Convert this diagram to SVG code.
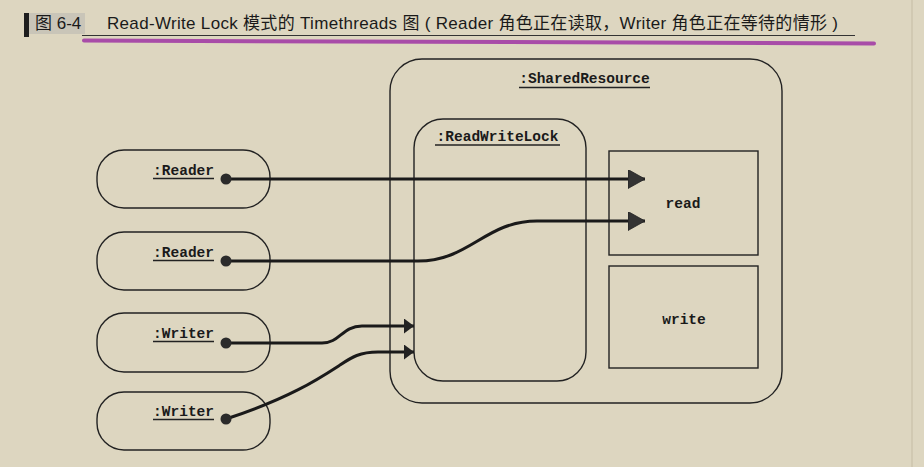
<svg xmlns="http://www.w3.org/2000/svg" width="924" height="467" viewBox="0 0 924 467">
  <defs>
    <style>
      .bg { fill: #ddd6c0; }
      .title { font-family: "Liberation Sans", "Noto Sans CJK SC", sans-serif; font-size: 17px; fill: #1a1a1a; }
      .lbl { font-family: "Liberation Mono", "DejaVu Sans Mono", monospace; font-weight: bold; font-size: 14.5px; fill: #1a1a1a; }
      .node { fill: none; stroke: #222; stroke-width: 1.4; }
      .ul { stroke: #222; stroke-width: 1.3; }
      .conn { fill: none; stroke: #1a1a1a; stroke-width: 3; }
      .dot { fill: #2b2b2b; }
    </style>
    <marker id="arrBig" viewBox="0 0 17 19" refX="17" refY="9.5" markerWidth="17" markerHeight="19" markerUnits="userSpaceOnUse" orient="auto">
      <path d="M0,0 L17,9.5 L0,19 z" fill="#333" stroke="#222" stroke-width="0.8"/>
    </marker>
    <marker id="arrSmall" viewBox="0 0 10 15" refX="10" refY="7.5" markerWidth="10" markerHeight="15" markerUnits="userSpaceOnUse" orient="auto">
      <path d="M0,0 L10,7.5 L0,15 z" fill="#222"/>
    </marker>
  </defs>

  <rect class="bg" x="0" y="0" width="924" height="467"/>
  <line x1="912" y1="0" x2="912" y2="467" stroke="#cdc5ae" stroke-width="1.5"/>

  <g id="title">
    <rect x="24" y="13" width="5" height="24" fill="#1e1e1e"/>
    <rect x="29" y="13" width="56" height="21" fill="#c9c5b8"/>
    <text class="title" x="35" y="29">图 6-4</text>
    <text class="title" x="107" y="29" textLength="731" lengthAdjust="spacing">Read-Write Lock 模式的 Timethreads 图 ( Reader 角色正在读取，Writer 角色正在等待的情形 )</text>
    <line x1="82" y1="35.5" x2="855" y2="35.5" stroke="#333" stroke-width="1"/>
    <line x1="84" y1="40.5" x2="874" y2="43.5" stroke="#a84ca8" stroke-width="4" stroke-linecap="round"/>
  </g>

  <g id="sharedResource">
    <rect class="node" x="390" y="59" width="392" height="344" rx="32"/>
    <text class="lbl" x="584.5" y="83" text-anchor="middle">:SharedResource</text>
    <line class="ul" x1="519" y1="87.5" x2="650" y2="87.5"/>
  </g>

  <g id="readWriteLock">
    <rect class="node" x="414" y="119" width="172" height="262" rx="29"/>
    <text class="lbl" x="497.5" y="141" text-anchor="middle">:ReadWriteLock</text>
    <line class="ul" x1="435" y1="145" x2="560" y2="145"/>
  </g>

  <g id="read">
    <rect class="node" x="609" y="151" width="149" height="104"/>
    <text class="lbl" x="683" y="208" text-anchor="middle">read</text>
  </g>

  <g id="write">
    <rect class="node" x="609" y="266" width="149" height="102"/>
    <text class="lbl" x="684" y="324" text-anchor="middle">write</text>
  </g>

  <g id="reader1">
    <rect class="node" x="97" y="150" width="173" height="58" rx="27"/>
    <text class="lbl" x="214" y="175" text-anchor="end">:Reader</text>
    <line class="ul" x1="153" y1="178.5" x2="214" y2="178.5"/>
  </g>

  <g id="reader2">
    <rect class="node" x="97" y="232" width="173" height="58" rx="27"/>
    <text class="lbl" x="214" y="257" text-anchor="end">:Reader</text>
    <line class="ul" x1="153" y1="260.5" x2="214" y2="260.5"/>
  </g>

  <g id="writer1">
    <rect class="node" x="97" y="313" width="173" height="59" rx="27"/>
    <text class="lbl" x="214" y="338" text-anchor="end">:Writer</text>
    <line class="ul" x1="153" y1="341.5" x2="214" y2="341.5"/>
  </g>

  <g id="writer2">
    <rect class="node" x="97" y="392" width="173" height="58" rx="27"/>
    <text class="lbl" x="214" y="416" text-anchor="end">:Writer</text>
    <line class="ul" x1="153" y1="419.5" x2="214" y2="419.5"/>
  </g>

  <g id="connectors">
    <path class="conn" d="M226,179 L645,179" marker-end="url(#arrBig)"/>
    <path class="conn" d="M226,261 L418,261 C470,261 485,221 537,221 L645,221" marker-end="url(#arrBig)"/>
    <path class="conn" d="M226,343 L322,343 C340,343 342,326 362,326 L414,326" marker-end="url(#arrSmall)"/>
    <path class="conn" d="M226,419 C290,398 320,378 340,365 C352,357 360,352 378,352 L414,352" marker-end="url(#arrSmall)"/>
    <circle class="dot" cx="226" cy="179" r="5.5"/>
    <circle class="dot" cx="226" cy="261" r="5.5"/>
    <circle class="dot" cx="226" cy="343" r="5.5"/>
    <circle class="dot" cx="226" cy="419" r="5.5"/>
  </g>
</svg>
